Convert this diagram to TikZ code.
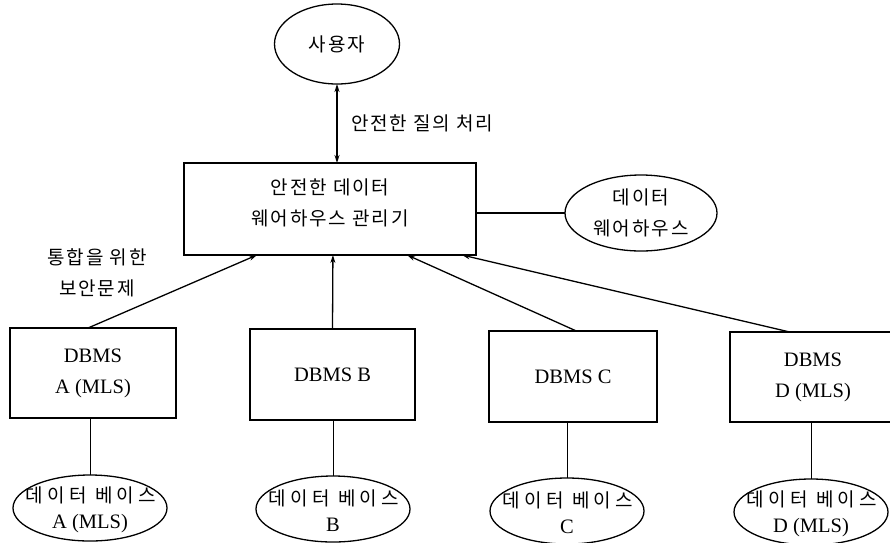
\documentclass[tikz,border=0pt]{standalone}
\usepackage{fontspec}
\setmainfont{Liberation Serif}
\newfontfamily\kr[LetterSpace=10]{Noto Sans CJK KR}
\newfontfamily\krwide[LetterSpace=22]{Noto Sans CJK KR}
\usetikzlibrary{shapes.geometric,arrows.meta,calc}
\tikzset{
  every node/.style={inner sep=0pt, outer sep=0pt},
  box/.style={draw, line width=1.4pt, rectangle, align=center, font=\fontsize{20.5}{31}\selectfont},
  oval/.style={draw, line width=1.3pt, ellipse, align=center},
  krtxt/.style={font=\kr\fontsize{19}{31}\selectfont, align=center},
  conn/.style={line width=1.3pt},
  thin conn/.style={line width=1pt},
  arr/.style={conn, -{Stealth[length=8pt,width=5pt]}},
  darr/.style={conn, {Stealth[length=8pt,width=5pt]}-{Stealth[length=8pt,width=5pt]}},
  dbshape/.style={oval, minimum width=154pt, minimum height=66pt},
  dbtxt/.style={align=center, font=\fontsize{20.5}{26}\selectfont},
}
\newcommand{\dbword}{{\krwide\fontsize{19}{26}\selectfont\hspace*{2pt}데이터 베이스}}
\begin{document}
\begin{tikzpicture}[x=1pt,y=-1pt]
\useasboundingbox (0,0) rectangle (890,542);
% top
\node[oval, minimum width=125pt, minimum height=80pt, krtxt] (user) at (337,44) {사용자};
\node[box, minimum width=292pt, minimum height=92pt] (mgr) at (330,209) {};
\node[krtxt] (mgrt) at (330,203) {안전한 데이터\\웨어하우스 관리기};
\node[oval, minimum width=152pt, minimum height=76pt, krtxt] (dw) at (641,213) {데이터\\웨어하우스};
% DBMS boxes
\node[box, minimum width=166pt, minimum height=90pt] (dbA) at (93,373) {DBMS\\A (MLS)};
\node[box, minimum width=165pt, minimum height=91pt] (dbB) at (332.5,374.5) {DBMS B};
\node[box, minimum width=168pt, minimum height=91pt] (dbC) at (573,376.5) {DBMS C};
\node[box, minimum width=166pt, minimum height=90pt] (dbD) at (813,377) {DBMS\\D (MLS)};
% databases
\node[dbshape] (eA) at (90,508) {};
\node[dbshape] (eB) at (333,509) {};
\node[dbshape] (eC) at (567,511) {};
\node[dbshape] (eD) at (811,512) {};
\node[dbtxt] (tA) at ($(eA.center)+(0,2)$) {\dbword\\A (MLS)};
\node[dbtxt] (tB) at ($(eB.center)+(0,2)$) {\dbword\\B};
\node[dbtxt] (tC) at ($(eC.center)+(0,2)$) {\dbword\\C};
\node[dbtxt] (tD) at ($(eD.center)+(0,2)$) {\dbword\\D (MLS)};
% labels
\node[krtxt, anchor=west] (lq) at (351,123) {안전한 질의 처리};
\node[krtxt] (ls) at (97,273) {통합을 위한\\보안문제};
% connectors
\draw[darr] (user.south) -- (user.south |- mgr.north);
\draw[conn] (mgr.east |- dw.west) -- (dw.west);
\draw[arr] ($(dbA.north west)!0.47!(dbA.north east)$) -- ($(mgr.south west)!0.25!(mgr.south east)$);
\draw[arr] ($(dbB.north west)!0.5!(dbB.north east)$) -- ($(mgr.south west)!0.51!(mgr.south east)$);
\draw[arr] ($(dbC.north west)!0.52!(dbC.north east)$) -- ($(mgr.south west)!0.764!(mgr.south east)$);
\draw[arr] ($(dbD.north west)!0.36!(dbD.north east)$) -- ($(mgr.south west)!0.952!(mgr.south east)$);
\draw[thin conn] (dbA.south -| eA.north) -- (eA.north);
\draw[thin conn] (dbB.south -| eB.north) -- (eB.north);
\draw[thin conn] (dbC.south -| eC.north) -- (eC.north);
\draw[thin conn] (dbD.south -| eD.north) -- (eD.north);
\end{tikzpicture}
\end{document}
